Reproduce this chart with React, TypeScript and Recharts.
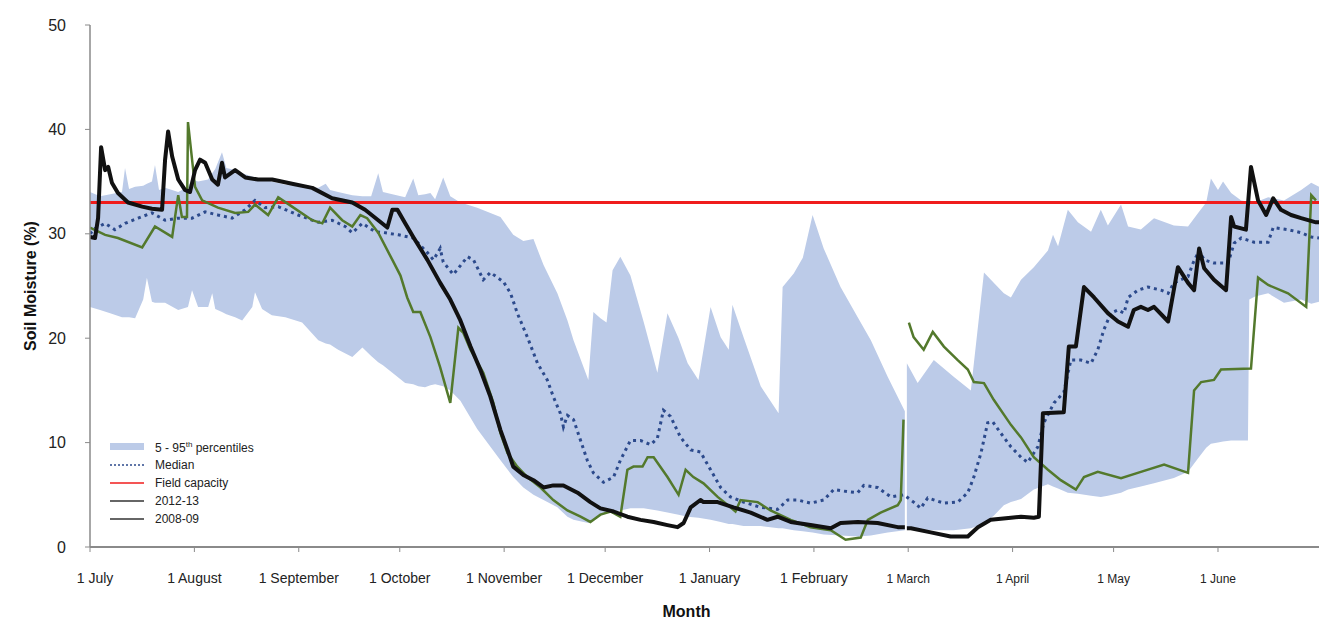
import {
  Area,
  ComposedChart,
  Label,
  Legend,
  Line,
  ReferenceLine,
  XAxis,
  YAxis,
} from "recharts";

const FONT = '"Liberation Sans", Arial, Helvetica, sans-serif';

// x axis is "days since 1 July"
const monthTicks = [0, 31, 62, 92, 123, 153, 184, 215, 243, 274, 304, 335];
const monthLabels = [
  "1 July",
  "1 August",
  "1 September",
  "1 October",
  "1 November",
  "1 December",
  "1 January",
  "1 February",
  "1 March",
  "1 April",
  "1 May",
  "1 June",
];
const moistureTicks = [0, 10, 20, 30, 40, 50];
const fieldCapacity = 33;

// 5 - 95th percentile band: [day, low, high]
const band: [number, number | null, number | null][] = [
  [0, 23.0, 34.0], [3, 22.7, 33.6], [6, 22.4, 33.8], [9.5, 22.0, 34.0],
  [10.4, 22.0, 36.3], [11.6, 22.0, 34.3], [13.4, 21.9, 34.5], [15.8, 23.7, 34.6],
  [16.9, 25.8, 34.8], [18.4, 23.5, 35.0], [19.3, 23.4, 36.6], [20.5, 23.4, 34.2],
  [22.3, 23.4, 34.4], [26.2, 22.7, 34.0], [29.1, 23.0, 34.5], [30.3, 24.6, 35.2],
  [32.1, 23.0, 35.0], [35.1, 23.0, 35.2], [36.3, 24.3, 35.8], [37.2, 22.8, 36.2],
  [39.2, 22.5, 37.8], [40.5, 22.3, 36.3], [43.1, 22.0, 36.1], [45.2, 21.7, 35.8],
  [48.2, 23.0, 35.5], [49.0, 24.4, 35.4], [51.1, 22.8, 35.3], [54, 22.2, 35.0],
  [58.0, 22.0, 34.7], [63.0, 21.5, 34.5], [67.8, 19.8, 34.4], [70.0, 19.5, 34.8],
  [71.3, 19.4, 34.2], [73.7, 18.9, 34.0], [77.9, 18.2, 33.7], [80.9, 19.1, 33.6],
  [83.5, 18.3, 33.6], [85.6, 17.7, 35.8], [87.0, 17.4, 34.0], [89.8, 16.7, 33.8],
  [93.6, 15.7, 33.5], [96.0, 15.6, 35.3], [97.5, 15.4, 33.7], [99.5, 15.3, 33.8],
  [101.1, 15.5, 33.9], [102.5, 15.6, 33.3], [104.9, 15.4, 35.4], [107.0, 15.0, 33.6],
  [110.0, 14.0, 33.0], [115.0, 11.3, 32.5], [121.9, 8.3, 31.6], [125.7, 6.7, 29.9],
  [128.7, 5.7, 29.3], [131.7, 5.0, 29.5], [134.7, 4.5, 27.0], [138.8, 3.8, 24.3],
  [141.8, 2.9, 21.7], [143.6, 2.6, 19.8], [148.0, 2.3, 16.0], [149.5, 2.6, 22.5],
  [151.6, 3.0, 21.9], [153.4, 3.3, 21.5], [155.2, 3.4, 26.5], [157.5, 3.5, 27.8],
  [160.5, 3.7, 26.0], [164.4, 3.7, 21.6], [168.5, 3.5, 16.7], [171.5, 3.3, 22.4],
  [174.8, 3.1, 20.0], [177.5, 2.9, 17.6], [180.7, 2.8, 16.0], [184.3, 2.6, 23.0],
  [187.3, 2.4, 20.1], [189.7, 2.2, 18.9], [190.8, 2.2, 23.2], [194.1, 2.0, 20.1],
  [199.2, 2.0, 15.4], [204.5, 1.8, 12.8], [205.7, 1.8, 24.9], [209.0, 1.6, 26.2],
  [211.7, 1.5, 27.7], [214.6, 1.4, 31.8], [217.9, 1.2, 28.6], [222.9, 1.1, 24.9],
  [228.0, 1.0, 22.0], [231.9, 1.1, 19.8], [236.9, 1.4, 16.3], [242.0, 1.6, 13.0],
  [242.3, null, null],
  [242.6, 1.7, 17.6], [245.8, 1.7, 15.7], [250.6, 1.6, 17.9], [256.5, 1.6, 16.3],
  [261.6, 1.8, 15.0], [262.5, 1.9, 17.6], [265.5, 2.3, 26.3], [268.4, 3.0, 25.3],
  [271.4, 4.0, 24.3], [273.5, 4.3, 23.9], [276.5, 4.6, 25.6], [280.3, 5.5, 26.8],
  [284.5, 6.0, 28.4], [286.0, 5.8, 29.9], [287.5, 5.6, 28.8], [290.4, 5.2, 32.3],
  [293.4, 5.1, 31.1], [297.3, 4.9, 30.2], [300.2, 4.8, 32.3], [302.3, 4.9, 30.8],
  [306.2, 5.2, 32.8], [308.3, 5.5, 30.7], [312.1, 5.8, 30.4], [316.0, 6.1, 31.5],
  [321.9, 6.6, 30.8], [326.1, 7.2, 30.7], [329.1, 8.5, 32.0], [331.5, 9.5, 33.0],
  [332.9, 9.9, 35.3], [335.0, 10.0, 34.2], [336.5, 10.1, 35.0], [338.9, 10.2, 33.9],
  [341.9, 10.2, 33.2], [343.9, 10.2, 33.1], [344.3, 23.7, 33.0], [346, 24.0, 33.0],
  [349.9, 24.3, 33.5], [354.6, 23.4, 33.2], [359.7, 23.7, 34.2], [362.7, 23.3, 34.9],
  [365, 23.5, 34.5],
];

const median: [number, number][] = [
  [0, 30.0], [1.5, 30.5], [4.5, 31.0], [7.4, 30.4], [10.4, 31.0], [14.3, 31.5],
  [18.4, 32.0], [22.3, 31.3], [26.2, 31.5], [30.3, 31.5], [34.2, 32.1], [38.0, 31.8],
  [42.2, 31.5], [46.1, 32.3], [49.0, 33.2], [52.0, 32.5], [55.9, 32.6], [61.8, 31.8],
  [67.8, 31.1], [71.9, 31.3], [75.8, 30.7], [77.9, 30.1], [80.9, 31.0], [84.7, 30.2],
  [87.7, 30.1], [91.6, 29.9], [96.0, 29.6], [100.2, 28.2], [102.0, 27.5], [104.0, 28.6],
  [104.9, 27.3], [107.9, 26.1], [112.1, 27.8], [113.9, 27.5], [116.8, 25.6], [118.9, 26.3],
  [122.8, 25.4], [124.9, 24.3], [126.9, 22.4], [129.9, 20.1], [132.9, 17.6], [135.8, 16.0],
  [137.6, 14.4], [139.7, 12.8], [140.6, 11.5], [141.8, 12.6], [143.6, 12.2], [145.7, 10.2],
  [147.7, 8.3], [149.5, 7.1], [152.5, 6.2], [155.5, 6.7], [157.5, 8.3], [160.5, 10.2],
  [163.5, 10.2], [166.5, 9.8], [168.5, 10.4], [170.3, 13.1], [172.4, 12.5], [175.4, 10.5],
  [178.4, 9.3], [181.3, 9.1], [184.3, 7.4], [187.3, 5.7], [190.2, 4.8], [194.1, 4.3],
  [199.2, 3.8], [204.2, 3.6], [207.2, 4.5], [210.2, 4.5], [214.0, 4.2], [217.9, 4.5],
  [220.9, 5.5], [225.0, 5.3], [228.0, 5.2], [229.8, 5.9], [233.9, 5.7], [237.8, 4.8],
  [241.7, 5.0], [244.6, 4.3], [246.7, 3.7], [248.8, 4.7], [253.6, 4.2], [257.7, 4.3],
  [260.7, 5.2], [262.5, 6.7], [264.6, 9.0], [266.6, 11.9], [268.1, 12.0], [270.5, 10.9],
  [273.5, 9.6], [276.5, 8.6], [278.5, 8.1], [281.5, 9.6], [283.3, 11.9], [286.3, 13.8],
  [289.2, 14.8], [291.3, 17.9], [294.3, 17.9], [297.3, 17.6], [299.3, 18.9], [301.1, 20.8],
  [303.2, 22.4], [305.3, 22.7], [307.1, 22.4], [308.3, 23.9], [311.2, 24.6], [314.2, 24.9],
  [318.1, 24.6], [320.2, 24.3], [321.9, 25.3], [326.1, 25.9], [327.6, 27.2], [329.4, 28.4],
  [330.9, 27.5], [333.8, 27.2], [338.0, 27.2], [339.8, 29.1], [341.9, 29.6], [345.7, 29.2],
  [349.9, 29.2], [351.4, 30.6], [355.8, 30.4], [359.7, 30.1], [362.7, 29.7], [365, 29.6],
];

// 2012-13 season (black)
const season2012: [number, number | null][] = [
  [0, 29.7], [1.5, 29.6], [2.4, 31.5], [3.3, 38.3], [4.5, 36.1], [5.4, 36.4],
  [6.5, 34.9], [8.3, 33.9], [11.3, 33.0], [15.5, 32.6], [18.4, 32.4], [21.4, 32.3],
  [22.3, 37.1], [23.2, 39.8], [24.4, 37.4], [26.2, 35.2], [28.2, 34.2], [29.7, 34.0],
  [31.2, 36.1], [32.7, 37.1], [34.2, 36.8], [36.3, 35.2], [38.0, 34.7], [39.2, 36.8],
  [40.1, 35.4], [43.1, 36.1], [46.1, 35.4], [49.9, 35.2], [54.1, 35.2], [60.0, 34.8],
  [66.0, 34.4], [71.9, 33.4], [77.9, 33.0], [81.7, 32.3], [85.6, 31.3], [88.3, 30.6],
  [89.8, 32.3], [91.3, 32.3], [93.6, 31.0], [96.0, 29.7], [100.2, 27.5], [104.0, 25.3],
  [107.0, 23.7], [110.0, 21.7], [113.0, 19.2], [115.9, 17.0], [118.9, 14.4], [121.9, 11.2],
  [124.0, 9.3], [125.7, 7.7], [128.7, 6.9], [131.7, 6.4], [134.7, 5.7], [137.6, 5.9],
  [140.6, 5.9], [144.8, 5.2], [148.6, 4.3], [151.6, 3.7], [155.5, 3.4], [159.6, 2.9],
  [163.5, 2.6], [167.4, 2.4], [171.5, 2.1], [174.5, 1.9], [176.3, 2.3], [178.4, 3.8],
  [181.3, 4.5], [182.2, 4.3], [186.4, 4.3], [191.1, 3.8], [196.2, 3.3], [201.2, 2.6],
  [204.2, 2.9], [208.1, 2.4], [214.0, 2.1], [220.0, 1.8], [222.9, 2.3], [228.0, 2.4],
  [233.9, 2.3], [239.9, 1.9], [242.0, 1.9],
  [242.3, null],
  [242.6, 1.8], [243.8, 1.8], [249.7, 1.4], [255.6, 1.0], [260.7, 1.0], [263.7, 1.9],
  [267.5, 2.6], [273.5, 2.8], [276.5, 2.9], [280.3, 2.8], [281.8, 2.9], [283.0, 12.8],
  [289.2, 12.9], [290.7, 19.2], [292.8, 19.2], [295.2, 24.9], [298.2, 23.9], [302.3, 22.4],
  [305.3, 21.6], [308.3, 21.1], [310.0, 22.7], [312.1, 23.0], [314.2, 22.7], [316.0, 23.0],
  [320.2, 21.6], [323.1, 26.8], [326.1, 25.3], [327.9, 24.6], [329.4, 28.6], [330.9, 26.7],
  [333.8, 25.6], [337.4, 24.6], [338.9, 31.6], [339.8, 30.7], [343.3, 30.4], [344.8, 36.4],
  [346.9, 33.2], [349.3, 31.8], [351.4, 33.4], [353.7, 32.3], [356.7, 31.8], [359.7, 31.5],
  [364.1, 31.1], [365, 31.1],
];

// 2008-09 season (green)
const season2008: [number, number | null][] = [
  [0, 30.6], [4.5, 29.9], [8.3, 29.6], [15.5, 28.7], [19.3, 30.7], [24.4, 29.7],
  [26.2, 33.7], [27.3, 31.6], [28.8, 31.6], [29.1, 40.7], [31.2, 34.5], [33.3, 33.2],
  [38.0, 32.5], [43.1, 32.0], [47.0, 32.1], [49.0, 32.8], [52.9, 31.8], [55.9, 33.5],
  [60.0, 32.6], [66.0, 31.3], [69.0, 31.0], [71.3, 32.5], [74.9, 31.3], [77.9, 30.7],
  [80.3, 31.8], [82.3, 31.5], [85.6, 30.1], [89.8, 27.5], [92.2, 26.0], [94.2, 23.9],
  [96.0, 22.5], [98.1, 22.5], [101.1, 20.1], [104.0, 17.2], [107.0, 13.8], [109.4, 21.0],
  [110.9, 20.5], [113.0, 18.9], [116.8, 16.7], [119.8, 13.8], [121.9, 10.9], [124.0, 9.0],
  [126.9, 7.7], [129.9, 6.7], [133.8, 5.7], [137.6, 4.5], [141.8, 3.5], [145.7, 2.9],
  [148.6, 2.4], [151.6, 3.1], [154.6, 3.4], [157.5, 2.9], [159.6, 7.4], [161.4, 7.7],
  [164.1, 7.7], [165.6, 8.6], [167.4, 8.6], [171.5, 6.7], [174.8, 5.0], [176.9, 7.4],
  [179.2, 6.7], [182.2, 6.1], [186.4, 4.8], [190.2, 3.8], [191.7, 3.4], [193.2, 4.5],
  [198.3, 4.3], [202.1, 3.5], [208.1, 2.6], [214.0, 1.9], [220.0, 1.6], [224.4, 0.7],
  [228.9, 0.9], [231.0, 2.6], [234.8, 3.3], [239.9, 4.0], [240.8, 4.5], [241.6, 12.2],
  [242.4, null],
  [243.2, 21.5], [244.6, 20.1], [247.6, 18.9], [250.3, 20.6], [253.6, 19.2], [257.7, 17.9],
  [260.7, 17.0], [262.5, 15.8], [265.5, 15.7], [268.4, 14.1], [273.5, 11.7], [276.5, 10.5],
  [280.3, 8.6], [284.5, 7.4], [288.3, 6.4], [292.8, 5.5], [295.2, 6.7], [299.3, 7.2],
  [306.2, 6.6], [312.1, 7.2], [319.0, 7.9], [326.1, 7.1], [327.9, 15.0], [330.0, 15.8],
  [333.8, 16.0], [335.9, 17.0], [344.8, 17.1], [346.9, 25.8], [349.9, 25.1], [355.8, 24.3],
  [361.2, 23.0], [362.7, 33.7], [364.1, 33.2],
];

const BAND_COLOR = "#bccbe8";
const MEDIAN_COLOR = "#2c4a8c";
const FIELD_COLOR = "#f01c1c";
const BLACK_COLOR = "#111111";
const GREEN_COLOR = "#53792c";
const AXIS_COLOR = "#8a8a8a";

const bandData = band.map(([day, lo, hi]) => ({
  day,
  range: lo == null || hi == null ? null : [lo, hi],
}));
const medianData = median.map(([day, v]) => ({ day, v }));
const data2012 = season2012.map(([day, v]) => ({ day, v }));
const data2008 = season2008.map(([day, v]) => ({ day, v }));

const legendItems = [
  { name: "band", label: "5 - 95", sup: "th", rest: " percentiles" },
  { name: "median", label: "Median", color: MEDIAN_COLOR, dash: "2 2", width: 1.5 },
  { name: "field", label: "Field capacity", color: FIELD_COLOR, width: 1.5 },
  { name: "s2012", label: "2012-13", color: "#333333", width: 1.5 },
  { name: "s2008", label: "2008-09", color: "#333333", width: 1.5 },
];

function LegendBox() {
  return (
    <div style={{ fontFamily: FONT, fontSize: 12, color: "#222" }}>
      {legendItems.map((item) => (
        <div
          key={item.name}
          style={{ display: "flex", alignItems: "center", height: 18 }}
        >
          <svg width={34} height={10} style={{ marginRight: 11 }}>
            {item.name === "band" ? (
              <rect x={0} y={1} width={34} height={7} fill={BAND_COLOR} />
            ) : (
              <line
                x1={0}
                x2={34}
                y1={5}
                y2={5}
                stroke={item.color}
                strokeWidth={item.width}
                strokeDasharray={item.dash}
              />
            )}
          </svg>
          <span>
            {item.label}
            {item.sup && <sup style={{ fontSize: 8 }}>{item.sup}</sup>}
            {item.rest}
          </span>
        </div>
      ))}
    </div>
  );
}

function MonthTick(props: any) {
  const { x, y, payload } = props;
  const i = monthTicks.indexOf(payload.value);
  const small = i >= 8;
  return (
    <text
      x={x + (i === 0 ? 5 : 0)}
      y={y + 10}
      textAnchor="middle"
      fontSize={small ? 12 : 14}
      fill="#222"
      fontFamily={FONT}
    >
      {monthLabels[i]}
    </text>
  );
}

export default function App() {
  return (
    <ComposedChart
      width={1329}
      height={613}
      margin={{ top: 17, right: 18, bottom: 0, left: 0 }}
      style={{ fontFamily: FONT }}
    >
      <XAxis
        dataKey="day"
        type="number"
        domain={[0, 365]}
        ticks={monthTicks}
        interval={0}
        tick={<MonthTick />}
        tickSize={5}
        tickMargin={21}
        height={74}
        axisLine={{ stroke: AXIS_COLOR, strokeWidth: 2 }}
        tickLine={{ stroke: AXIS_COLOR }}
        allowDataOverflow
      >
        <Label
          value="Month"
          position="insideBottom"
          offset={4}
          dx={-18}
          style={{ fontWeight: "bold", fontSize: 16, fill: "#111" }}
        />
      </XAxis>
      <YAxis
        type="number"
        domain={[0, 50]}
        ticks={moistureTicks}
        interval={0}
        width={82}
        tickSize={5}
        tickMargin={19}
        axisLine={{ stroke: AXIS_COLOR, strokeWidth: 1.5 }}
        tickLine={{ stroke: AXIS_COLOR }}
        tick={{ fontSize: 16, fill: "#222" }}
      >
        <Label
          value="Soil Moisture (%)"
          angle={-90}
          position="insideLeft"
          offset={22}
          style={{
            textAnchor: "middle",
            fontWeight: "bold",
            fontSize: 16,
            fill: "#111",
          }}
        />
      </YAxis>
      <Legend
        layout="vertical"
        align="center"
        verticalAlign="middle"
        wrapperStyle={{ left: 102, top: 430, width: 220 }}
        content={() => <LegendBox />}
      />
      <Area
        data={bandData}
        dataKey="range"
        type="linear"
        stroke="none"
        fill={BAND_COLOR}
        fillOpacity={1}
        isAnimationActive={false}
        activeDot={false}
      />
      <ReferenceLine y={fieldCapacity} stroke={FIELD_COLOR} strokeWidth={3} />
      <Line
        data={medianData}
        dataKey="v"
        type="linear"
        stroke={MEDIAN_COLOR}
        strokeWidth={3}
        strokeDasharray="3 4"
        dot={false}
        activeDot={false}
        isAnimationActive={false}
      />
      <Line
        data={data2008}
        dataKey="v"
        type="linear"
        stroke={GREEN_COLOR}
        strokeWidth={2.5}
        dot={false}
        activeDot={false}
        isAnimationActive={false}
      />
      <Line
        data={data2012}
        dataKey="v"
        type="linear"
        stroke={BLACK_COLOR}
        strokeWidth={4}
        strokeLinejoin="round"
        dot={false}
        activeDot={false}
        isAnimationActive={false}
      />
    </ComposedChart>
  );
}
